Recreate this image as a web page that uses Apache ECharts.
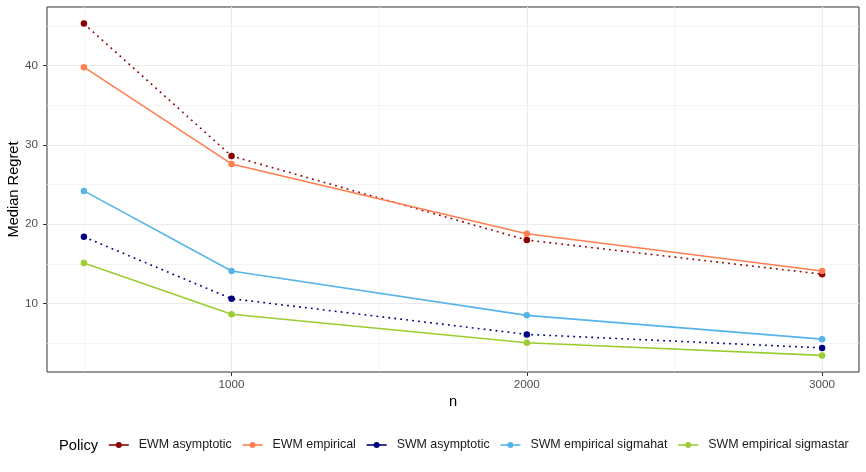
<!DOCTYPE html>
<html>
<head>
<meta charset="utf-8">
<script src="https://cdn.jsdelivr.net/npm/echarts@6/dist/echarts.min.js"></script>
<style>
  html, body { margin: 0; padding: 0; background: #fff; }
  #chart { width: 866px; height: 472px; }
</style>
</head>
<body>
<div id="chart"></div>
<script>
// ---- data ----
const nValues = [500, 1000, 2000, 3000];
const seriesNames = ['EWM asymptotic', 'EWM empirical', 'SWM asymptotic', 'SWM empirical sigmahat', 'SWM empirical sigmastar'];
const ewmAsymptotic = [45.3, 28.6, 18.0, 13.7];
const ewmEmpirical = [39.8, 27.6, 18.8, 14.1];
const swmAsymptotic = [18.4, 10.6, 6.1, 4.4];
const swmSigmahat = [24.2, 14.1, 8.5, 5.5];
const swmSigmastar = [15.1, 8.65, 5.05, 3.45];
const xTickLabels = [1000, 2000, 3000];
const xMinorBreaks = [500, 1500, 2500];
const yTickLabels = [10, 20, 30, 40];
const yMinorBreaks = [5, 15, 25, 35, 45];

// ---- styling ----
const colors = ['#8B0000', '#FF7F50', '#000080', '#56B4E9', '#9ACD32'];
const dotted = [1.8, 4.2];
const lineTypes = [dotted, 'solid', dotted, 'solid', 'solid'];
const FONT = '"Liberation Sans", Arial, Helvetica, sans-serif';

const allValues = [ewmAsymptotic, ewmEmpirical, swmAsymptotic, swmSigmahat, swmSigmastar];
const flat = allValues.flat();
const yMinD = Math.min(...flat), yMaxD = Math.max(...flat);
const yPad = (yMaxD - yMinD) * 0.05;
const xMinD = Math.min(...nValues), xMaxD = Math.max(...nValues);
const xPad = (xMaxD - xMinD) * 0.05;
const xMin = xMinD - xPad, xMax = xMaxD + xPad;
const yMin = yMinD - yPad, yMax = yMaxD + yPad;

const series = allValues.map((vals, i) => ({
  name: seriesNames[i],
  type: 'line',
  xAxisIndex: 0,
  yAxisIndex: 0,
  data: nValues.map((n, j) => [n, vals[j]]),
  symbol: 'circle',
  symbolSize: 6.5,
  color: colors[i],
  lineStyle: { color: colors[i], width: 1.6, type: lineTypes[i], cap: 'butt' },
  itemStyle: { color: colors[i] },
  emphasis: { disabled: true },
  animation: false,
  z: 3
}));

const plain = v => String(v);

const chart = echarts.init(document.getElementById('chart'), null, { renderer: 'canvas' });
chart.setOption({
  backgroundColor: '#ffffff',
  animation: false,
  textStyle: { fontFamily: FONT },
  grid: {
    left: 47, right: 7, top: 7, bottom: 100,
    outerBoundsMode: 'none',
    containLabel: false,
    show: true, borderColor: '#333333', borderWidth: 1, backgroundColor: 'transparent'
  },
  xAxis: [{
    type: 'value',
    min: xMin, max: xMax,
    name: 'n',
    nameLocation: 'middle',
    nameGap: 22,
    nameMoveOverlap: false,
    nameTextStyle: { fontFamily: FONT, fontSize: 14.67, color: '#000' },
    axisLine: { show: false },
    axisTick: { show: true, customValues: xTickLabels, length: 4, lineStyle: { color: '#333' } },
    axisLabel: { customValues: xTickLabels, formatter: plain, fontFamily: FONT, fontSize: 11.7, color: '#4D4D4D', margin: 7 },
    splitLine: { show: true, lineStyle: { color: '#EBEBEB', width: 1.1 } },
    z: 1
  }, {
    type: 'value',
    min: xMin, max: xMax,
    position: 'bottom',
    axisLine: { show: false },
    axisTick: { show: false, customValues: xMinorBreaks },
    axisLabel: { show: false, customValues: xMinorBreaks },
    splitLine: { show: true, lineStyle: { color: '#EFEFEF', width: 0.7 } },
    z: 1
  }],
  yAxis: [{
    type: 'value',
    min: yMin, max: yMax,
    name: 'Median Regret',
    nameLocation: 'middle',
    nameGap: 26,
    nameMoveOverlap: false,
    nameTextStyle: { fontFamily: FONT, fontSize: 14.67, color: '#000' },
    axisLine: { show: false },
    axisTick: { show: true, customValues: yTickLabels, length: 4, lineStyle: { color: '#333' } },
    axisLabel: { customValues: yTickLabels, formatter: plain, fontFamily: FONT, fontSize: 11.7, color: '#4D4D4D', margin: 9 },
    splitLine: { show: true, lineStyle: { color: '#EBEBEB', width: 1.1 } },
    z: 1
  }, {
    type: 'value',
    min: yMin, max: yMax,
    position: 'left',
    axisLine: { show: false },
    axisTick: { show: false, customValues: yMinorBreaks },
    axisLabel: { show: false, customValues: yMinorBreaks },
    splitLine: { show: true, lineStyle: { color: '#EFEFEF', width: 0.7 } },
    z: 1
  }],
  legend: {
    data: seriesNames,
    left: 108,
    top: 439,
    padding: 0,
    itemWidth: 20,
    itemHeight: 7.5,
    itemGap: 10,
    lineStyle: { type: 'solid', width: 1.6 },
    textStyle: { fontFamily: FONT, fontSize: 12.4, color: '#1a1a1a', padding: [0, 0, 0, 5] },
    selectedMode: false
  },
  graphic: [{
    type: 'text',
    left: 59,
    top: 438,
    style: { text: 'Policy', fontFamily: FONT, fontSize: 14.67, fill: '#000' }
  }],
  series: series
});
</script>
</body>
</html>
